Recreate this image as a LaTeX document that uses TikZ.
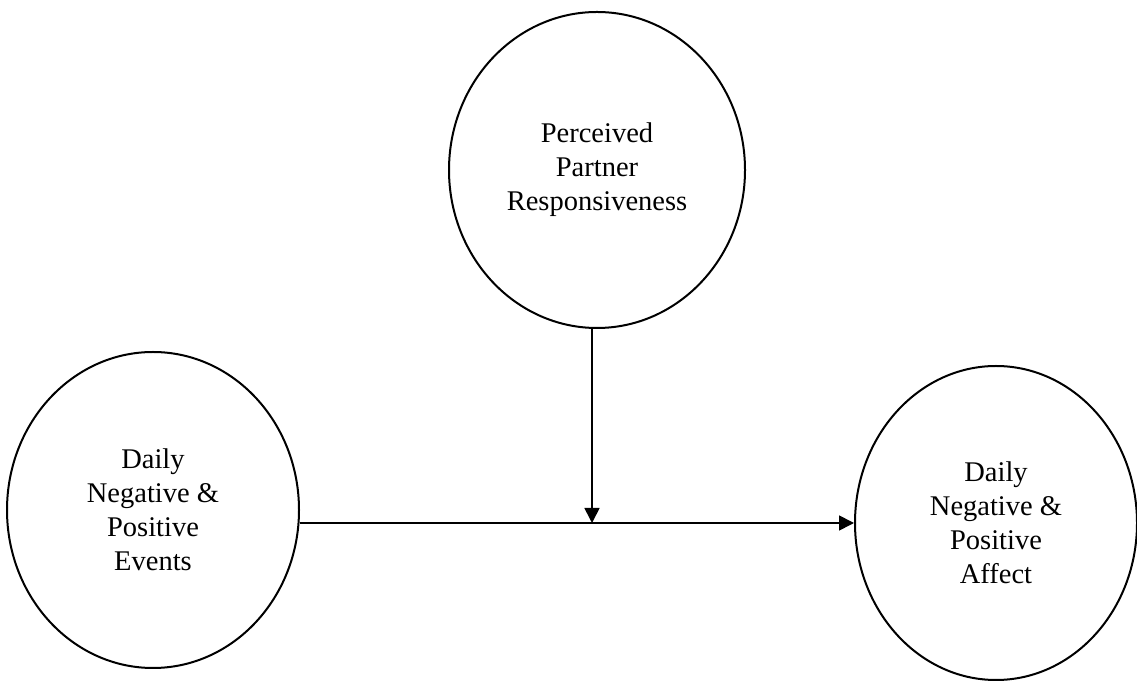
\documentclass[tikz,border=0pt]{standalone}
\usepackage{fontspec}
\setmainfont{Liberation Serif}
\usetikzlibrary{shapes.geometric,arrows.meta}
\begin{document}
\begin{tikzpicture}[x=1pt,y=1pt,
  var/.style={draw, ellipse, line width=2pt, inner sep=0pt, align=center,
    font=\fontsize{28.5}{34}\selectfont},
  conn/.style={line width=1.7pt, -{Triangle[length=15pt,width=15pt]}}]
\useasboundingbox (0,0) rectangle (1137,682);
\node[var, minimum width=296pt, minimum height=316pt] (ppr) at (597,512)
  {Perceived\\Partner\\Responsiveness};
\node[var, minimum width=292pt, minimum height=316pt] (ev) at (153,172)
  {Daily\\Negative \&\\Positive\\Events};
\node[var, minimum width=282pt, minimum height=314pt] (af) at (996,159)
  {Daily\\Negative \&\\Positive\\Affect};
\coordinate (mid) at (592,159);
\draw[conn] (ev.east |- mid) -- (af.west |- mid);
\draw[conn] (mid |- ppr.south) -- (mid);
\end{tikzpicture}
\end{document}
